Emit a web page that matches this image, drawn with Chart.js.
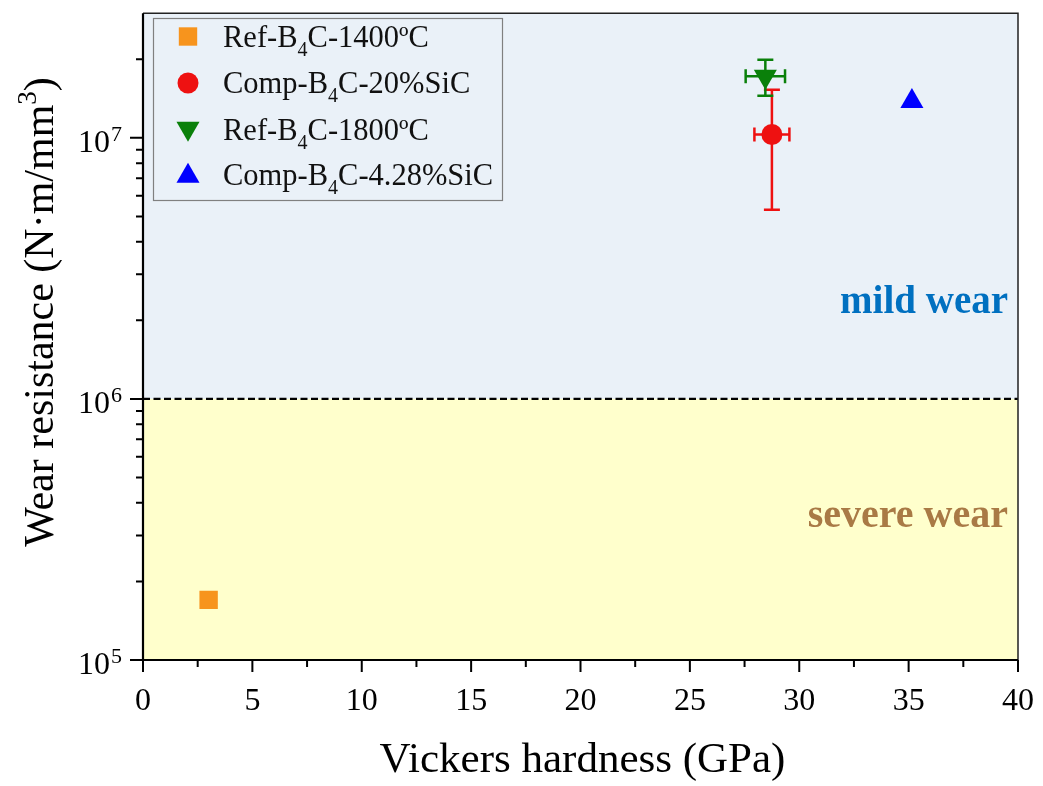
<!DOCTYPE html>
<html>
<head>
<meta charset="utf-8">
<script src="https://cdn.jsdelivr.net/npm/chart.js@4.4.0/dist/chart.umd.min.js"></script>
<style>
  html, body { margin: 0; padding: 0; background: #fff; }
  canvas { display: block; }
</style>
</head>
<body>
<canvas id="wearChart" width="1043" height="786"></canvas>
<script>
// data
const seriesLabels = ["Ref-B4C-1400ºC", "Comp-B4C-20%SiC", "Ref-B4C-1800ºC", "Comp-B4C-4.28%SiC"];
const hardness = [3.0, 28.75, 28.45, 35.15];          // GPa
const hardnessErr = [0, 0.8, 0.9, 0];
const wearResistance = [1.7e5, 1.03e7, 1.72e7, 1.38e7]; // N·m/mm3
const wearErr = [0, 5.0e6, 2.7e6, 0];
const colors = ["#F7941D", "#EE1111", "#0A800A", "#0000FF"];
const pointStyles = ["rect", "circle", "triangle", "triangle"];
const pointRotations = [0, 0, 180, 0];
const pointSizes = [13, 10.5, 13.3, 13.3];

const xTicks = [0, 5, 10, 15, 20, 25, 30, 35, 40];
const yTicks = [1e5, 1e6, 1e7];
const yExponents = ["5", "6", "7"];
const wearThreshold = 1e6;

const SERIF = "'Liberation Serif', 'Times New Roman', serif";

function drawMarker(ctx, style, rot, r, x, y, color) {
  ctx.save();
  ctx.fillStyle = color;
  ctx.beginPath();
  if (style === "rect") {
    const s = Math.SQRT1_2 * r;
    ctx.rect(x - s, y - s, 2 * s, 2 * s);
  } else if (style === "circle") {
    ctx.arc(x, y, r, 0, Math.PI * 2);
  } else {
    let rad = rot * Math.PI / 180;
    for (let k = 0; k < 3; k++) {
      const px = x + Math.sin(rad) * r, py = y - Math.cos(rad) * r;
      k === 0 ? ctx.moveTo(px, py) : ctx.lineTo(px, py);
      rad += Math.PI * 2 / 3;
    }
    ctx.closePath();
  }
  ctx.fill();
  ctx.restore();
}

// text with "B4C" subscript
function drawLabel(ctx, label, x, y, size) {
  const parts = label.split("B4C");
  ctx.font = size + "px " + SERIF;
  let cx = x;
  const pre = parts[0] + "B";
  ctx.fillText(pre, cx, y);
  cx += ctx.measureText(pre).width;
  ctx.font = Math.round(size * 0.67) + "px " + SERIF;
  ctx.fillText("4", cx, y + size * 0.3);
  cx += ctx.measureText("4").width;
  ctx.font = size + "px " + SERIF;
  ctx.fillText("C" + parts[1], cx, y);
}

const decorPlugin = {
  id: "decor",
  beforeDatasetsDraw(chart) {
    const { ctx, chartArea: a, scales: { x, y } } = chart;
    const yb = y.getPixelForValue(wearThreshold);
    ctx.save();
    ctx.fillStyle = "#EAF1F8";
    ctx.fillRect(a.left, a.top, a.right - a.left, yb - a.top);
    ctx.fillStyle = "#FFFFCC";
    ctx.fillRect(a.left, yb, a.right - a.left, a.bottom - yb);

    ctx.strokeStyle = "#000";
    ctx.lineWidth = 2.2;
    ctx.setLineDash([7, 3.5]);
    ctx.beginPath();
    ctx.moveTo(a.left, yb);
    ctx.lineTo(a.right, yb);
    ctx.stroke();
    ctx.setLineDash([]);

    ctx.textAlign = "right";
    ctx.font = "bold 39px " + SERIF;
    ctx.fillStyle = "#0070C0";
    ctx.fillText("mild wear", a.right - 10, 313);
    ctx.font = "bold 40px " + SERIF;
    ctx.fillStyle = "#A97A45";
    ctx.fillText("severe wear", a.right - 10, 527);

    // error bars
    ctx.lineWidth = 2.5;
    hardness.forEach(function (h, i) {
      const px = x.getPixelForValue(h);
      const py = y.getPixelForValue(wearResistance[i]);
      ctx.strokeStyle = colors[i];
      if (wearErr[i]) {
        const y1 = y.getPixelForValue(wearResistance[i] + wearErr[i]);
        const y2 = y.getPixelForValue(wearResistance[i] - wearErr[i]);
        ctx.beginPath();
        ctx.moveTo(px, y1); ctx.lineTo(px, y2);
        ctx.moveTo(px - 8, y1); ctx.lineTo(px + 8, y1);
        ctx.moveTo(px - 8, y2); ctx.lineTo(px + 8, y2);
        ctx.stroke();
      }
      if (hardnessErr[i]) {
        const x1 = x.getPixelForValue(h - hardnessErr[i]);
        const x2 = x.getPixelForValue(h + hardnessErr[i]);
        ctx.beginPath();
        ctx.moveTo(x1, py); ctx.lineTo(x2, py);
        ctx.moveTo(x1, py - 7); ctx.lineTo(x1, py + 7);
        ctx.moveTo(x2, py - 7); ctx.lineTo(x2, py + 7);
        ctx.stroke();
      }
    });
    ctx.restore();
  },
  afterDraw(chart) {
    const { ctx, chartArea: a, scales: { x, y } } = chart;
    ctx.save();

    // frame
    ctx.strokeStyle = "#222";
    ctx.lineWidth = 1.5;
    ctx.beginPath();
    ctx.moveTo(a.left, a.top); ctx.lineTo(a.right, a.top); ctx.lineTo(a.right, a.bottom);
    ctx.stroke();
    ctx.strokeStyle = "#000";
    ctx.lineWidth = 2.2;
    ctx.beginPath();
    ctx.moveTo(a.left, a.top); ctx.lineTo(a.left, a.bottom); ctx.lineTo(a.right, a.bottom);
    ctx.stroke();

    // x ticks
    ctx.lineWidth = 2;
    ctx.beginPath();
    xTicks.forEach(function (t, i) {
      const px = x.getPixelForValue(t);
      ctx.moveTo(px, a.bottom); ctx.lineTo(px, a.bottom + 12);
      if (i < xTicks.length - 1) {
        const mx = x.getPixelForValue(t + 2.5);
        ctx.moveTo(mx, a.bottom); ctx.lineTo(mx, a.bottom + 7);
      }
    });
    ctx.stroke();

    // y ticks
    ctx.beginPath();
    yTicks.forEach(function (t) {
      const py = y.getPixelForValue(t);
      ctx.moveTo(a.left - 13, py); ctx.lineTo(a.left, py);
      for (let m = 2; m <= 9; m++) {
        const v = t * m;
        if (v >= y.max) break;
        const my = y.getPixelForValue(v);
        ctx.moveTo(a.left - 7, my); ctx.lineTo(a.left, my);
      }
    });
    ctx.stroke();

    // tick labels
    ctx.fillStyle = "#000";
    ctx.font = "32px " + SERIF;
    ctx.textAlign = "center";
    ctx.textBaseline = "alphabetic";
    xTicks.forEach(function (t) {
      ctx.fillText(String(t), x.getPixelForValue(t), 710);
    });
    yTicks.forEach(function (t, i) {
      const py = y.getPixelForValue(t);
      ctx.font = "22px " + SERIF;
      ctx.textAlign = "right";
      ctx.fillText(yExponents[i], 122, py + 3);
      const ew = ctx.measureText(yExponents[i]).width;
      ctx.font = "32px " + SERIF;
      ctx.fillText("10", 121 - ew, py + 14);
    });

    // axis titles
    ctx.font = "43px " + SERIF;
    ctx.textAlign = "center";
    ctx.fillText("Vickers hardness (GPa)", (a.left + a.right) / 2 + 2, 772);

    ctx.save();
    ctx.translate(53, 312);
    ctx.rotate(-Math.PI / 2);
    ctx.font = "42px " + SERIF;
    const t1 = "Wear resistance (N·m/mm";
    const w1 = ctx.measureText(t1).width;
    ctx.font = "27px " + SERIF;
    const w2 = ctx.measureText("3").width;
    ctx.font = "42px " + SERIF;
    const w3 = ctx.measureText(")").width;
    let tx = -(w1 + w2 + w3) / 2;
    ctx.textAlign = "left";
    ctx.fillText(t1, tx, 0);
    tx += w1;
    ctx.font = "27px " + SERIF;
    ctx.fillText("3", tx, -17);
    tx += w2;
    ctx.font = "42px " + SERIF;
    ctx.fillText(")", tx, 0);
    ctx.restore();

    // legend
    ctx.strokeStyle = "#808080";
    ctx.lineWidth = 1.2;
    ctx.strokeRect(153.5, 18.5, 349, 182);
    const markerY = [36.5, 83, 128.5, 176];
    const textY = [47, 93, 140, 185];
    ctx.textAlign = "left";
    seriesLabels.forEach(function (lab, i) {
      drawMarker(ctx, pointStyles[i], pointRotations[i], pointSizes[i], 188, markerY[i], colors[i]);
      ctx.fillStyle = "#111";
      drawLabel(ctx, lab, 223, textY[i], 30.5);
    });
    ctx.restore();
  }
};

const datasets = seriesLabels.map(function (lab, i) {
  return {
    label: lab,
    data: [{ x: hardness[i], y: wearResistance[i] }],
    pointStyle: pointStyles[i],
    rotation: pointRotations[i],
    pointRadius: pointSizes[i],
    backgroundColor: colors[i],
    borderWidth: 0,
    showLine: false,
  };
});

new Chart(document.getElementById("wearChart"), {
  type: "scatter",
  data: { datasets: datasets },
  options: {
    responsive: false,
    animation: false,
    layout: { padding: { left: 0, top: 6, right: 25, bottom: 0 } },
    plugins: { legend: { display: false }, tooltip: { enabled: false } },
    scales: {
      x: {
        type: "linear",
        min: 0,
        max: 40,
        grid: { display: false },
        border: { display: false },
        ticks: { display: false },
        afterFit: function (scale) { scale.height = 126; },
      },
      y: {
        type: "logarithmic",
        min: 1e5,
        max: 3e7,
        grid: { display: false },
        border: { display: false },
        ticks: { display: false },
        afterFit: function (scale) { scale.width = 143; },
      },
    },
  },
  plugins: [decorPlugin],
});
</script>
</body>
</html>
